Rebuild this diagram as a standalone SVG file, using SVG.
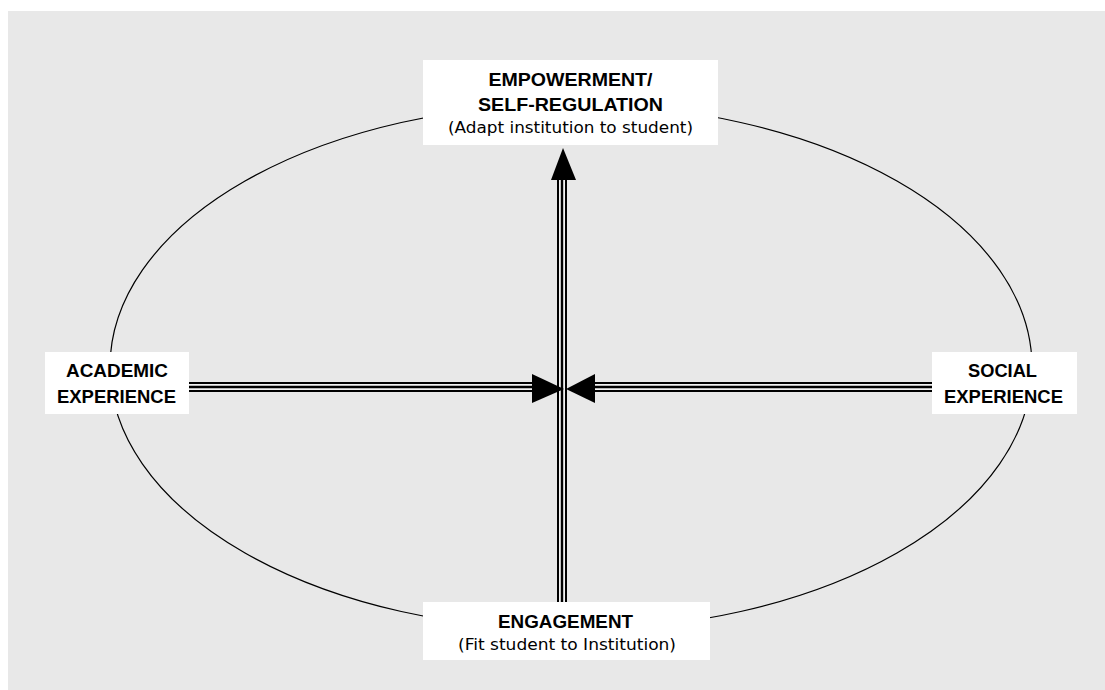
<svg xmlns="http://www.w3.org/2000/svg" width="1105" height="690" viewBox="0 0 1105 690">
<style>
.box{fill:#ffffff;stroke:none}
.t{font-family:"Liberation Sans",Arial,sans-serif;font-weight:bold;font-size:19px;fill:#000;text-anchor:middle}
.s{font-family:"DejaVu Sans","Liberation Sans",sans-serif;font-size:16px;fill:#000;text-anchor:middle}
.o{fill:none;stroke:#000;stroke-width:10}
.w{fill:none;stroke:#f2f2f2;stroke-width:6}
.c{fill:none;stroke:#000;stroke-width:2.4}
.head{fill:#000;stroke:none}
</style>
<rect x="0" y="0" width="1105" height="690" fill="#ffffff"/>
<rect x="8" y="11" width="1097" height="679" fill="#e8e8e8"/>
<ellipse cx="571" cy="367" rx="461" ry="263" fill="none" stroke="#000" stroke-width="1.2"/>
<g id="connectors">
  <g id="up">
    <path class="o" d="M562 602 V178"/>
    <path class="w" d="M562 602 V178"/>
    <path class="c" d="M562 602 V178"/>
    <polygon class="head" points="563,148 551,180 576,180"/>
  </g>
  <g id="left">
    <path class="o" d="M189 387 H533"/>
    <path class="w" d="M189 387 H533"/>
    <path class="c" d="M189 387 H533"/>
    <polygon class="head" points="532,374 532,403 564,389"/>
  </g>
  <g id="right">
    <path class="o" d="M932 387 H594"/>
    <path class="w" d="M932 387 H594"/>
    <path class="c" d="M932 387 H594"/>
    <polygon class="head" points="595,374 595,403 566,389"/>
  </g>
</g>
<g id="empowerment">
  <rect class="box" x="423" y="60" width="295" height="85"/>
  <text class="t" x="570.5" y="86" textLength="164" lengthAdjust="spacingAndGlyphs">EMPOWERMENT/</text>
  <text class="t" x="570.5" y="111" textLength="185" lengthAdjust="spacingAndGlyphs">SELF-REGULATION</text>
  <text class="s" x="570.5" y="133" textLength="245" lengthAdjust="spacingAndGlyphs">(Adapt institution to student)</text>
</g>
<g id="academic">
  <rect class="box" x="45" y="352" width="144" height="62"/>
  <text class="t" x="117" y="377" textLength="102" lengthAdjust="spacingAndGlyphs">ACADEMIC</text>
  <text class="t" x="116.5" y="403" textLength="119" lengthAdjust="spacingAndGlyphs">EXPERIENCE</text>
</g>
<g id="social">
  <rect class="box" x="932" y="352" width="145" height="62"/>
  <text class="t" x="1002.5" y="377" textLength="69" lengthAdjust="spacingAndGlyphs">SOCIAL</text>
  <text class="t" x="1003.5" y="403" textLength="119" lengthAdjust="spacingAndGlyphs">EXPERIENCE</text>
</g>
<g id="engagement">
  <rect class="box" x="423" y="602" width="287" height="58"/>
  <text class="t" x="565.5" y="628" textLength="135" lengthAdjust="spacingAndGlyphs">ENGAGEMENT</text>
  <text class="s" x="567" y="650" textLength="218" lengthAdjust="spacingAndGlyphs">(Fit student to Institution)</text>
</g>
</svg>
